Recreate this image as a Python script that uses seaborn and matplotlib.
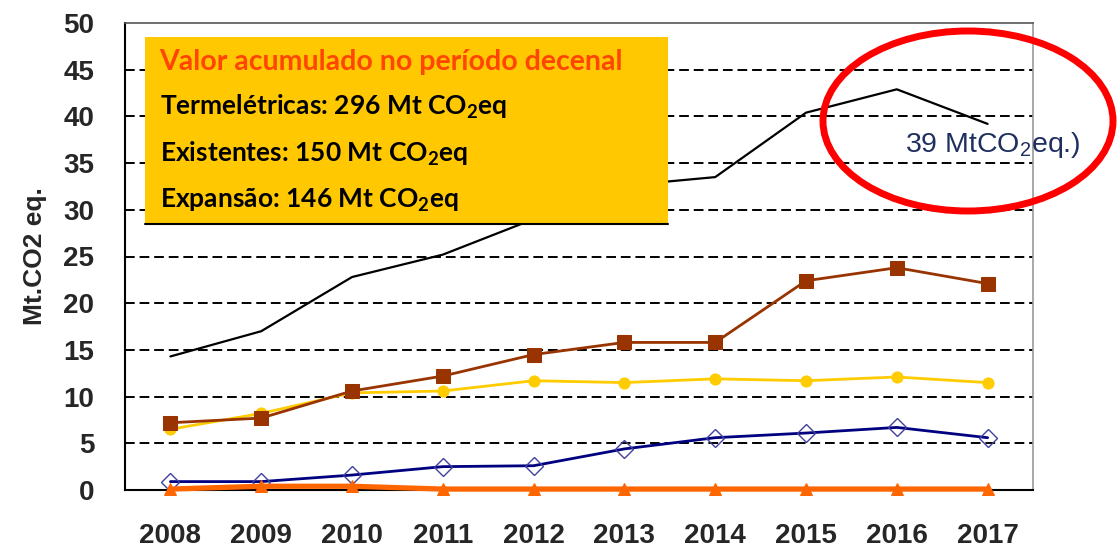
import numpy as np
import pandas as pd
import matplotlib
matplotlib.use("Agg")
import matplotlib.pyplot as plt
import seaborn as sns
from matplotlib.patches import Ellipse, Rectangle

# Dados (Mt CO2 eq.)
ANOS = ["2008", "2009", "2010", "2011", "2012", "2013", "2014", "2015", "2016", "2017"]
TERMELETRICAS = [14.3, 17.0, 22.8, 25.2, 29.0, 32.6, 33.5, 40.4, 42.9, 39.2]
SERIE_MARROM = [7.2, 7.7, 10.6, 12.2, 14.5, 15.8, 15.8, 22.4, 23.8, 22.1]
SERIE_AMARELA = [6.5, 8.2, 10.4, 10.6, 11.7, 11.5, 11.9, 11.7, 12.1, 11.5]
SERIE_AZUL = [0.9, 0.9, 1.6, 2.5, 2.6, 4.4, 5.6, 6.1, 6.7, 5.6]
SERIE_LARANJA = [0.1, 0.4, 0.4, 0.1, 0.1, 0.1, 0.1, 0.1, 0.1, 0.1]

TITULO_CAIXA = "Valor acumulado no período decenal"
LINHAS_CAIXA = [
    "Termelétricas: 296 Mt CO$_\\mathbf{2}$eq",
    "Existentes: 150 Mt CO$_\\mathbf{2}$eq",
    "Expansão: 146 Mt CO$_\\mathbf{2}$eq",
]
ANOTACAO = "39 MtCO$_2$eq.)"

sns.set_style("white")
plt.rcParams["font.family"] = ["Liberation Sans", "DejaVu Sans"]
plt.rcParams["mathtext.fontset"] = "custom"
plt.rcParams["mathtext.rm"] = "Liberation Sans"
plt.rcParams["mathtext.bf"] = "Lato:bold"

pos = np.arange(len(ANOS))
df = pd.DataFrame({"pos": pos, "term": TERMELETRICAS, "marrom": SERIE_MARROM,
                   "amarela": SERIE_AMARELA, "azul": SERIE_AZUL, "laranja": SERIE_LARANJA})

fig = plt.figure(figsize=(11.2, 5.53), dpi=100)
ax = fig.add_axes([125 / 1120, 1 - 490 / 553, 908 / 1120, 467 / 553])

# linhas de grade tracejadas
for v in range(5, 50, 5):
    ax.axhline(v, color="black", lw=1.4, ls=(0, (5, 2.5)), zorder=1)

sns.lineplot(data=df, x="pos", y="term", color="black", lw=1.6, ax=ax, zorder=3)
sns.lineplot(data=df, x="pos", y="amarela", color="#FFCC00", lw=2, marker="o",
             markersize=8, markeredgecolor="#FFCC00", ax=ax, zorder=3)
sns.lineplot(data=df, x="pos", y="marrom", color="#993300", lw=2, marker="s",
             markersize=9.5, markeredgecolor="#993300", ax=ax, zorder=4)
sns.lineplot(data=df, x="pos", y="azul", color="#000080", lw=2, marker="D",
             markersize=9, markerfacecolor="none", markeredgecolor="#4040A0",
             markeredgewidth=1, ax=ax, zorder=4)
sns.lineplot(data=df, x="pos", y="laranja", color="#FF6600", lw=3.8, marker="^",
             markersize=9, markeredgecolor="#FF6600", ax=ax, zorder=5, clip_on=False)

ax.set_xlim(-0.5, len(ANOS) - 0.5)
ax.set_ylim(0, 50)
ax.set_yticks(range(0, 51, 5))
ax.set_xticks(pos)
ax.set_xticklabels(ANOS, fontsize=20, fontweight="bold")
ax.set_xticks(np.arange(-0.5, len(ANOS), 1), minor=True)
ax.tick_params(axis="x", which="major", length=0, pad=24)
ax.tick_params(axis="x", which="minor", length=8, width=1.5, direction="out", color="black")
ax.tick_params(axis="y", length=20, width=1.5, direction="inout", pad=12, color="black",
               labelsize=20)
for lbl in ax.get_yticklabels():
    lbl.set_fontweight("bold")
ax.set_xlabel("")
ax.set_ylabel("Mt.CO2 eq.", fontsize=19, fontweight="bold", labelpad=12)

for s in ["left", "bottom"]:
    ax.spines[s].set_color("black")
    ax.spines[s].set_linewidth(1.5)
ax.spines["top"].set_color("#555555")
ax.spines["top"].set_linewidth(1.2)
ax.spines["right"].set_color("#999999")
ax.spines["right"].set_linewidth(1.2)

# caixa com valores acumulados
ax.add_patch(Rectangle((0.022, 0.57), 0.576, 0.40, transform=ax.transAxes,
                       facecolor="#FFC800", edgecolor="none", zorder=6))
ax.plot([0.022, 0.598], [0.57, 0.57], transform=ax.transAxes, color="black", lw=1.5, zorder=7)
ax.text(0.038, 0.917, TITULO_CAIXA, transform=ax.transAxes, color="#FF4500",
        fontsize=20.5, fontweight="bold", family="Lato", va="center", zorder=8)
for i, linha in enumerate(LINHAS_CAIXA):
    ax.text(0.038, 0.82 - i * 0.1, linha, transform=ax.transAxes, color="black",
            fontsize=19, fontweight="bold", family="Lato", va="center", zorder=8)

# destaque do último valor
fig.text(905 / 1120, 1 - 145 / 553, ANOTACAO, color="#1F2F5F", fontsize=20.5, va="center")
fig.patches.append(Ellipse((968 / 1120, 1 - 121 / 553), 290 / 1120, 180 / 553,
                           transform=fig.transFigure, fill=False, edgecolor="#FF0000", lw=5))

fig.savefig("out.png", dpi=100, facecolor="white")
